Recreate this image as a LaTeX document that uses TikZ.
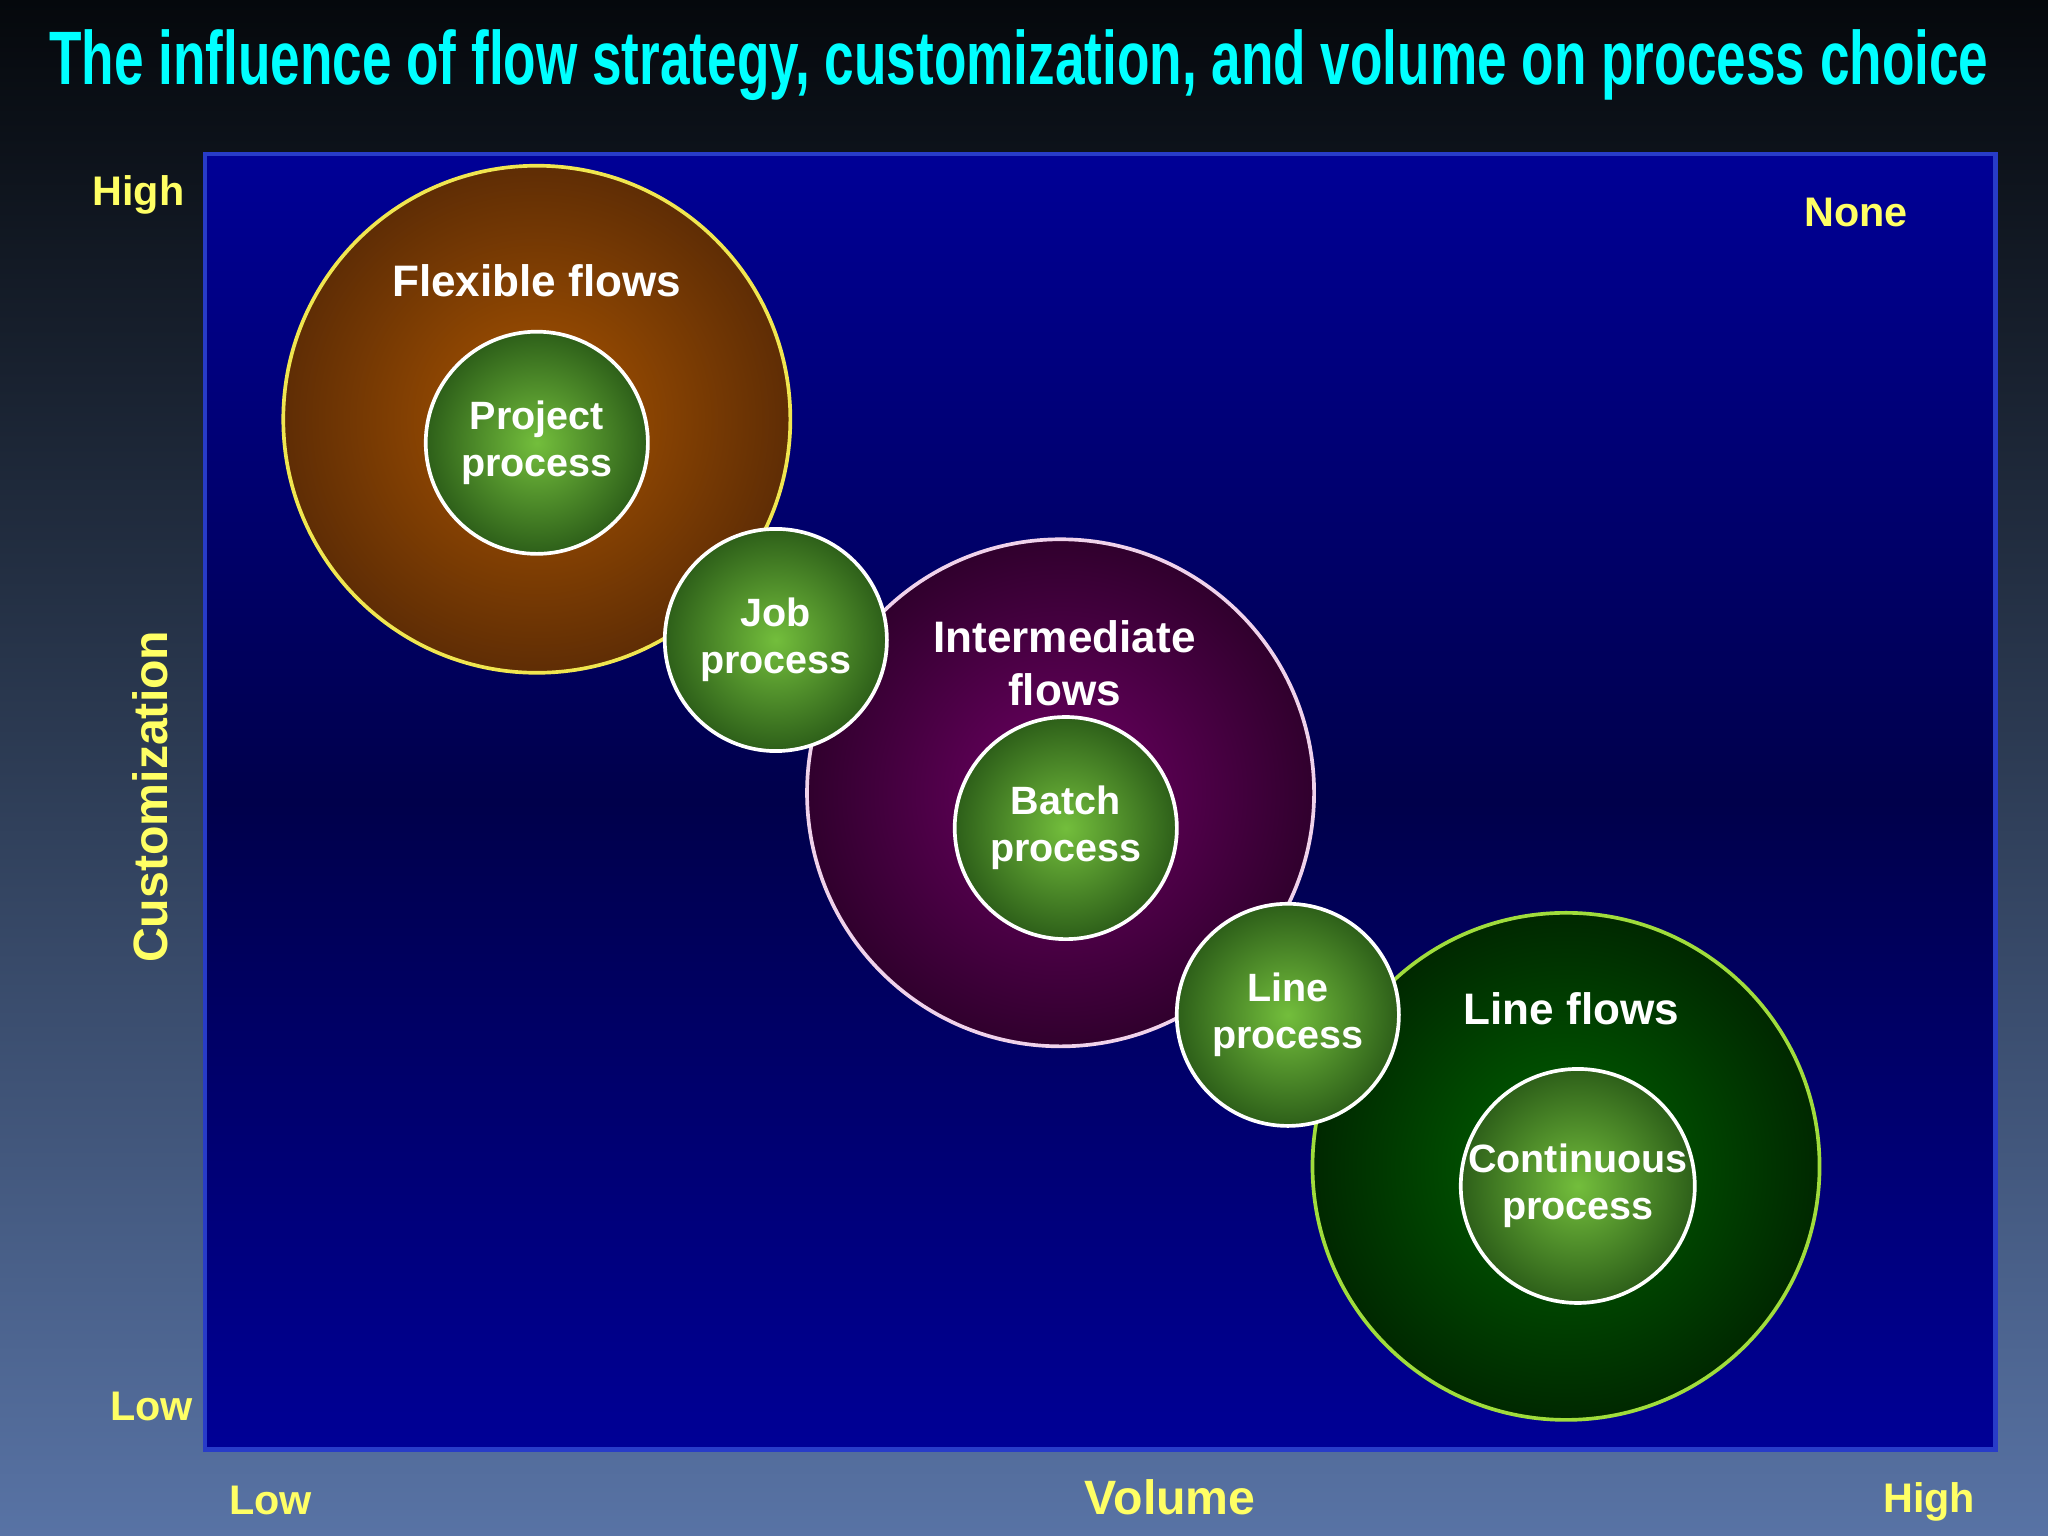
\documentclass[tikz,border=0pt]{standalone}
\usepackage{fontspec}
\setmainfont{Liberation Sans}
\usetikzlibrary{shadings}
\definecolor{ttl}{RGB}{0,255,255}
\definecolor{axy}{RGB}{255,255,100}
\begin{document}
\begin{tikzpicture}[x=0.01cm,y=-0.01cm,
  big/.style={draw, line width=0.8pt, circle, minimum size=3.88cm, inner sep=0pt},
  small/.style={draw=white, line width=0.8pt, circle, minimum size=1.7cm, inner sep=0pt,
     inner color={rgb,255:red,115;green,190;blue,60}, outer color={rgb,255:red,45;green,95;blue,25},
     text=white, font=\fontsize{8.6pt}{10.2pt}\selectfont\bfseries, align=center},
  lbl/.style={text=white, font=\fontsize{9.6pt}{11.5pt}\selectfont\bfseries, align=center},
  ax/.style={text=axy, font=\fontsize{9pt}{11pt}\selectfont\bfseries},
  axb/.style={text=axy, font=\fontsize{10.5pt}{12pt}\selectfont\bfseries}]
\useasboundingbox (0,0) rectangle (1568,1176);
\shade[top color={rgb,255:red,5;green,8;blue,12}, bottom color={rgb,255:red,88;green,115;blue,165}, middle color={rgb,255:red,45;green,60;blue,85}] (0,0) rectangle (1568,1176);
\node (title) at (780,50) {\resizebox{14.84cm}{0.42cm}{\color{ttl}\bfseries The influence of flow strategy, customization, and volume on process choice}};
\shade[shading=axis, shading angle=45, top color={rgb,255:red,0;green,0;blue,150}, bottom color={rgb,255:red,0;green,0;blue,150}, middle color={rgb,255:red,0;green,0;blue,75}] (157,118) rectangle (1528,1110);
\draw[line width=1pt, draw={rgb,255:red,40;green,60;blue,200}] (157,118) rectangle (1528,1110);
\node[big, draw={rgb,255:red,240;green,230;blue,80}, inner color={rgb,255:red,170;green,85;blue,0}, outer color={rgb,255:red,95;green,45;blue,5}] (flex) at (411,321) {};
\node[big, draw={rgb,255:red,240;green,210;blue,235}, inner color={rgb,255:red,110;green,0;blue,100}, outer color={rgb,255:red,48;green,0;blue,45}] (inter) at (812,607) {};
\node[big, draw={rgb,255:red,160;green,220;blue,60}, inner color={rgb,255:red,0;green,100;blue,0}, outer color={rgb,255:red,0;green,40;blue,0}] (linef) at (1199,893) {};
\node[lbl] (flexl) at (411,215) {Flexible flows};
\node[lbl] (interl) at (815,508) {Intermediate\\flows};
\node[lbl] (linel) at (1203,772) {Line flows};
\node[small] (proj) at (411,339) {Project\\process};
\node[small] (job) at (594,490) {Job\\process};
\node[small] (batch) at (816,634) {Batch\\process};
\node[small] (line) at (986,777) {Line\\process};
\node[small] (cont) at (1208,908) {Continuous\\process};
\node[ax] (hy) at (106,149) {High};
\node[ax] (ly) at (116,1077) {Low};
\node[axb, rotate=90] (cust) at (115,610) {Customization};
\node[ax] (lx) at (207,1149) {Low};
\node[axb] (vol) at (896,1146) {Volume};
\node[ax] (hx) at (1477,1150) {High};
\node[ax] (none) at (1421,163) {None};
\end{tikzpicture}
\end{document}
